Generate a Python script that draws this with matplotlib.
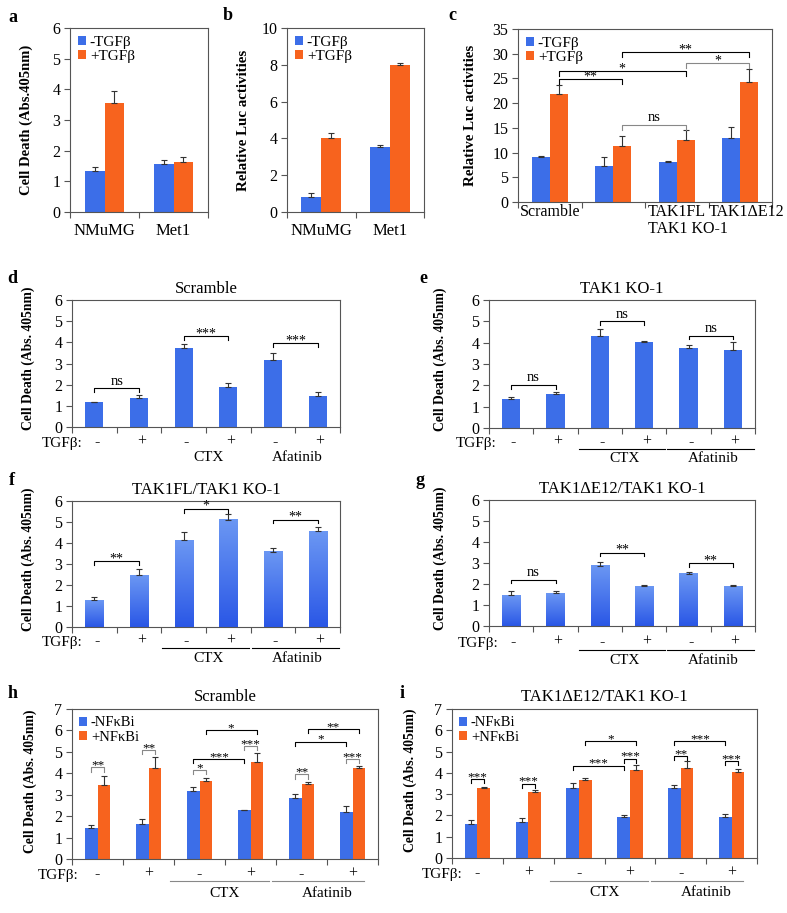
import matplotlib
matplotlib.use('Agg')
import matplotlib.pyplot as plt
import matplotlib.transforms as mtransforms
import numpy as np

plt.rcParams['font.family'] = ['Liberation Serif', 'DejaVu Serif']

# ---- data ----
ab_groups = ['NMuMG', 'Met1']
a_minus = [1.34, 1.57]
a_minus_err = [0.14, 0.11]
a_plus = [3.56, 1.64]
a_plus_err = [0.40, 0.15]

b_minus = [0.82, 3.55]
b_minus_err = [0.21, 0.11]
b_plus = [4.04, 7.99]
b_plus_err = [0.25, 0.11]

c_groups = ['Scramble', '', 'TAK1FL', 'TAK1\u0394E12']
c_minus = [9.1, 7.3, 8.1, 12.9]
c_minus_err = [0.15, 1.8, 0.15, 2.3]
c_plus = [21.9, 11.4, 12.5, 24.3]
c_plus_err = [1.8, 1.9, 2.1, 2.6]

tgf_signs = ['-', '+', '-', '+', '-', '+']
drugs = ['CTX', 'Afatinib']

d_vals = [1.16, 1.39, 3.71, 1.91, 3.18, 1.46]
d_err = [0.04, 0.11, 0.19, 0.19, 0.32, 0.20]
e_vals = [1.36, 1.58, 4.31, 4.03, 3.74, 3.66]
e_err = [0.11, 0.09, 0.35, 0.07, 0.13, 0.38]
f_vals = [1.28, 2.47, 4.13, 5.11, 3.59, 4.56]
f_err = [0.13, 0.27, 0.38, 0.29, 0.19, 0.20]
g_vals = [1.46, 1.55, 2.86, 1.90, 2.48, 1.90]
g_err = [0.20, 0.14, 0.18, 0.07, 0.08, 0.07]

h_minus = [1.47, 1.64, 3.17, 2.28, 2.86, 2.20]
h_minus_err = [0.14, 0.23, 0.17, 0.02, 0.16, 0.27]
h_plus = [3.44, 4.27, 3.64, 4.55, 3.50, 4.27]
h_plus_err = [0.45, 0.51, 0.16, 0.39, 0.11, 0.06]

i_minus = [1.59, 1.70, 3.30, 1.92, 3.30, 1.92]
i_minus_err = [0.19, 0.17, 0.21, 0.12, 0.13, 0.17]
i_plus = [3.29, 3.10, 3.66, 4.14, 4.25, 4.04]
i_plus_err = [0.04, 0.09, 0.10, 0.22, 0.31, 0.13]

# significance: (bar1, bar2, y, label)
d_sig = [(0, 1, 1.83, 'ns'), (2, 3, 4.3, '***'), (4, 5, 3.95, '***')]
e_sig = [(0, 1, 2.02, 'ns'), (2, 3, 5.0, 'ns'), (4, 5, 4.33, 'ns')]
f_sig = [(0, 1, 3.13, '**'), (2, 3, 5.63, '*'), (4, 5, 5.11, '**')]
g_sig = [(0, 1, 2.21, 'ns'), (2, 3, 3.5, '**'), (4, 5, 3.0, '**')]
# grouped: (group1, series1, group2, series2, y, label, gray?)
c_sig = [(0, 1, 1, 1, 24.9, '**', False), (0, 1, 2, 1, 26.5, '*', False),
         (2, 1, 3, 1, 28.1, '*', True), (1, 1, 3, 1, 30.3, '**', False),
         (1, 1, 2, 1, 15.6, 'ns', True)]
h_sig = [(0, 0, 0, 1, 4.28, '**', True), (1, 0, 1, 1, 5.1, '**', True),
         (2, 0, 2, 1, 4.16, '*', True), (3, 0, 3, 1, 5.27, '***', True),
         (4, 0, 4, 1, 3.95, '**', True), (5, 0, 5, 1, 4.67, '***', True),
         (2, 0, 3, 0, 4.66, '***', False), (2, 1, 3, 1, 6.03, '*', False),
         (4, 0, 5, 0, 5.48, '*', False), (4, 1, 5, 1, 6.08, '**', False)]
i_sig = [(0, 0, 0, 1, 3.71, '***', False), (1, 0, 1, 1, 3.5, '***', False),
         (3, 0, 3, 1, 4.67, '***', False), (4, 0, 4, 1, 4.8, '**', False),
         (5, 0, 5, 1, 4.56, '***', False),
         (2, 0, 3, 0, 4.34, '***', False), (2, 1, 3, 1, 5.5, '*', False),
         (4, 0, 5, 0, 5.49, '***', False)]

BLUE = '#3c6ee8'
ORANGE = '#f7631e'
GRAY = '#888888'
SPINE = '#555555'
W, H = 787, 913

fig = plt.figure(figsize=(W / 100, H / 100), dpi=100)


def px_axes(l, t, r, b):
    return fig.add_axes([l / W, 1 - b / H, (r - l) / W, (b - t) / H])


def fig_text(x, y, s, **kw):
    fig.text(x / W, 1 - y / H, s, **kw)


def style(ax, ymax, ystep, ylabel, lab_x, n, ylab_fs=10.0, lab_y=0.5):
    ax.set_xlim(-0.5, n - 0.5)
    ax.set_ylim(0, ymax)
    ax.set_yticks(np.arange(0, ymax + 0.01, ystep))
    ax.set_xticks(np.arange(-0.5, n, 1))
    ax.set_xticklabels([])
    for sp in ax.spines.values():
        sp.set_color(SPINE)
        sp.set_linewidth(0.8)
    ax.tick_params(axis='y', direction='out', length=4, width=0.8, color=SPINE, labelsize=11.5, pad=3)
    ax.tick_params(axis='x', direction='out', length=4, width=0.8, color=SPINE)
    ax.set_ylabel(ylabel, fontsize=ylab_fs, fontweight='bold')
    ax.yaxis.set_label_coords(lab_x, lab_y)


def bracket(ax, x1, x2, y, label, color, dh, fs=10):
    ax.plot([x1, x1, x2, x2], [y - dh, y, y, y - dh], color=color, lw=0.8)
    if label == 'ns':
        ax.annotate(label, ((x1 + x2) / 2, y), xytext=(0, 0.5), textcoords='offset points',
                    ha='center', va='bottom', fontsize=fs + 0.5)
    else:
        ax.annotate(label, ((x1 + x2) / 2, y), xytext=(0, -3), textcoords='offset points',
                    ha='center', va='bottom', fontsize=fs)


def below(ax, x, dy_px, s, fs=11.5):
    ax.annotate(s, xy=(x, 0), xycoords=('data', 'axes fraction'), xytext=(0, -dy_px * 0.72),
                textcoords='offset points', ha='center', va='center', fontsize=fs,
                annotation_clip=False)


def underline(ax, x1, x2, dy_px, color):
    trans = mtransforms.blended_transform_factory(ax.transData, ax.transAxes) + \
        mtransforms.ScaledTranslation(0, -dy_px / 100, fig.dpi_scale_trans)
    ax.plot([x1, x2], [0, 0], transform=trans, clip_on=False, color=color, lw=0.8)


def err_kw():
    return dict(ecolor='#333333', elinewidth=0.8, capsize=2.5, capthick=0.8)


def grouped(ax, minus, minus_err, plus, plus_err, width, labels, fs=10.5):
    x = np.arange(len(minus))
    z = np.zeros(len(minus))
    ax.bar(x - width / 2, minus, width, color=BLUE, label=labels[0],
           yerr=[z, minus_err], error_kw=err_kw())
    ax.bar(x + width / 2, plus, width, color=ORANGE, label=labels[1],
           yerr=[z, plus_err], error_kw=err_kw())
    leg = ax.legend(loc='upper left', frameon=False, fontsize=fs, handlelength=0.55,
                    handleheight=0.55, handletextpad=0.25, labelspacing=0.1,
                    borderaxespad=0.3, borderpad=0.2)
    return leg


def single(ax, vals, errs, gradient=False):
    x = np.arange(len(vals))
    width = 0.41
    z = np.zeros(len(vals))
    if gradient:
        grad = np.linspace(0, 1, 100).reshape(-1, 1)
        cmap = matplotlib.colors.LinearSegmentedColormap.from_list('g', ['#2a57e6', '#6b97f3'])
        for xi, v in zip(x, vals):
            ax.imshow(grad, extent=[xi - width / 2, xi + width / 2, 0, v], origin='lower',
                      aspect='auto', cmap=cmap, zorder=2)
        ax.errorbar(x, vals, yerr=[z, errs], fmt='none', zorder=3, **err_kw())
    else:
        ax.bar(x, vals, width, color=BLUE, yerr=[z, errs], error_kw=err_kw())


def treatment_labels(ax, dy_sign, dy_line, dy_drug, line_color, w_line, shift=0.0):
    for k, s in enumerate(tgf_signs):
        below(ax, k + shift, dy_sign, s)
    spans = [(2, 3), (4, 5)]
    for (a0, a1), name in zip(spans, drugs):
        if line_color is not None:
            underline(ax, a0 - w_line[0], a1 + w_line[1], dy_line, line_color)
        below(ax, (a0 + a1) / 2 + 0.05, dy_drug, name, fs=11)


# ---- a ----
ax = px_axes(70, 28, 208, 212)
grouped(ax, a_minus, a_minus_err, a_plus, a_plus_err, 0.28, ['-TGF\u03b2', '+TGF\u03b2'], fs=11)
style(ax, 6, 1, 'Cell Death (Abs.405nm)', -0.27, 2, ylab_fs=10.5)
for k, g in enumerate(ab_groups):
    below(ax, k, 19, g, fs=12)
fig_text(13, 17, 'a', fontsize=13, fontweight='bold', ha='center', va='center')

# ---- b ----
ax = px_axes(287, 28, 424, 212)
grouped(ax, b_minus, b_minus_err, b_plus, b_plus_err, 0.29, ['-TGF\u03b2', '+TGF\u03b2'], fs=11)
style(ax, 10, 2, 'Relative Luc activities', -0.27, 2, ylab_fs=10.8)
for k, g in enumerate(ab_groups):
    below(ax, k, 19, g, fs=12)
fig_text(228, 15, 'b', fontsize=13, fontweight='bold', ha='center', va='center')

# ---- c ----
ax = px_axes(518, 29, 772, 202)
cw = 0.28
grouped(ax, c_minus, c_minus_err, c_plus, c_plus_err, cw, ['-TGF\u03b2', '+TGF\u03b2'], fs=11)
style(ax, 35, 5, 'Relative Luc activities', -0.161, 4, ylab_fs=10.8)
for k, g in enumerate(c_groups):
    below(ax, k + (0.1 if k == 3 else 0), 10, g)
below(ax, 2.18, 27, 'TAK1 KO-1')
for g1, s1, g2, s2, y, lab, gray in c_sig:
    bracket(ax, g1 + (s1 - 0.5) * cw, g2 + (s2 - 0.5) * cw, y, lab,
            GRAY if gray else 'black', 1.0)
fig_text(452, 16, 'c', fontsize=13, fontweight='bold', ha='center', va='center')

# ---- d-g ----
single_specs = [
    ('d', d_vals, d_err, d_sig, (72, 300, 340, 427), 'Scramble', False,
     (15, 21, 30), None, (12, 278), 82),
    ('e', e_vals, e_err, e_sig, (489, 300, 755, 428), 'TAK1 KO-1', False,
     (14, 21, 30), 'black', (423, 278), 497),
    ('f', f_vals, f_err, f_sig, (72, 501, 340, 627), 'TAK1FL/TAK1 KO-1', True,
     (14, 21, 31), 'black', (12, 480), 82),
    ('g', g_vals, g_err, g_sig, (489, 500, 755, 626), 'TAK1\u0394E12/TAK1 KO-1', True,
     (16, 24, 34), 'black', (420, 480), 498),
]
for letter, vals, errs, sig, rect, title, grad, dys, lcol, lpos, tgf_x in single_specs:
    ax = px_axes(*rect)
    single(ax, vals, errs, gradient=grad)
    lab_x = -0.138 if rect[0] < 300 else -0.158
    style(ax, 6, 1, 'Cell Death (Abs. 405nm)', lab_x, 6, ylab_fs=9.8, lab_y=0.54)
    for b1, b2, y, lab in sig:
        bracket(ax, b1, b2, y, lab, 'black', 0.18)
    treatment_labels(ax, dys[0], dys[1], dys[2], lcol, (0.48, 0.47), shift=0.05)
    fig_text(tgf_x, rect[3] + dys[0] + 1, 'TGF\u03b2:', fontsize=11, ha='right', va='center')
    fig_text((rect[0] + rect[2]) / 2, rect[1] - 11, title, fontsize=12, ha='center', va='center')
    fig_text(lpos[0], lpos[1], letter, fontsize=13, fontweight='bold', ha='center', va='center')

# ---- h, i ----
grouped_specs = [
    ('h', h_minus, h_minus_err, h_plus, h_plus_err, h_sig, (72, 709, 378, 859), 'Scramble',
     0.24, -0.114, (13, 693), 79, (15, 22, 34)),
    ('i', i_minus, i_minus_err, i_plus, i_plus_err, i_sig, (452, 709, 757, 858),
     'TAK1\u0394E12/TAK1 KO-1', 0.25, -0.115, (402, 693), 462, (15, 23, 34)),
]
for letter, mv, me, pv, pe, sig, rect, title, bw, lab_x, lpos, tgf_x, dys in grouped_specs:
    ax = px_axes(*rect)
    grouped(ax, mv, me, pv, pe, bw, ['-NF\u03baBi', '+NF\u03baBi'], fs=10.5)
    style(ax, 7, 1, 'Cell Death (Abs. 405nm)', lab_x, 6, ylab_fs=9.8, lab_y=0.52)
    for g1, s1, g2, s2, y, lab, gray in sig:
        bracket(ax, g1 + (s1 - 0.5) * bw, g2 + (s2 - 0.5) * bw, y, lab,
                GRAY if gray else 'black', 0.2, fs=9.5)
    for k, s in enumerate(tgf_signs):
        below(ax, k, dys[0], s)
    for (a0, a1), name in zip([(2, 3), (4, 5)], drugs):
        underline(ax, a0 - 0.58, a1 + 0.36 if name == 'CTX' else a1 + 0.23, dys[1], GRAY)
        below(ax, (a0 + a1) / 2, dys[2], name, fs=11)
    fig_text(tgf_x, rect[3] + dys[0] + 1, 'TGF\u03b2:', fontsize=11, ha='right', va='center')
    fig_text((rect[0] + rect[2]) / 2, rect[1] - 12, title, fontsize=12, ha='center', va='center')
    fig_text(lpos[0], lpos[1], letter, fontsize=13, fontweight='bold', ha='center', va='center')

fig.savefig('out.png', dpi=100)
